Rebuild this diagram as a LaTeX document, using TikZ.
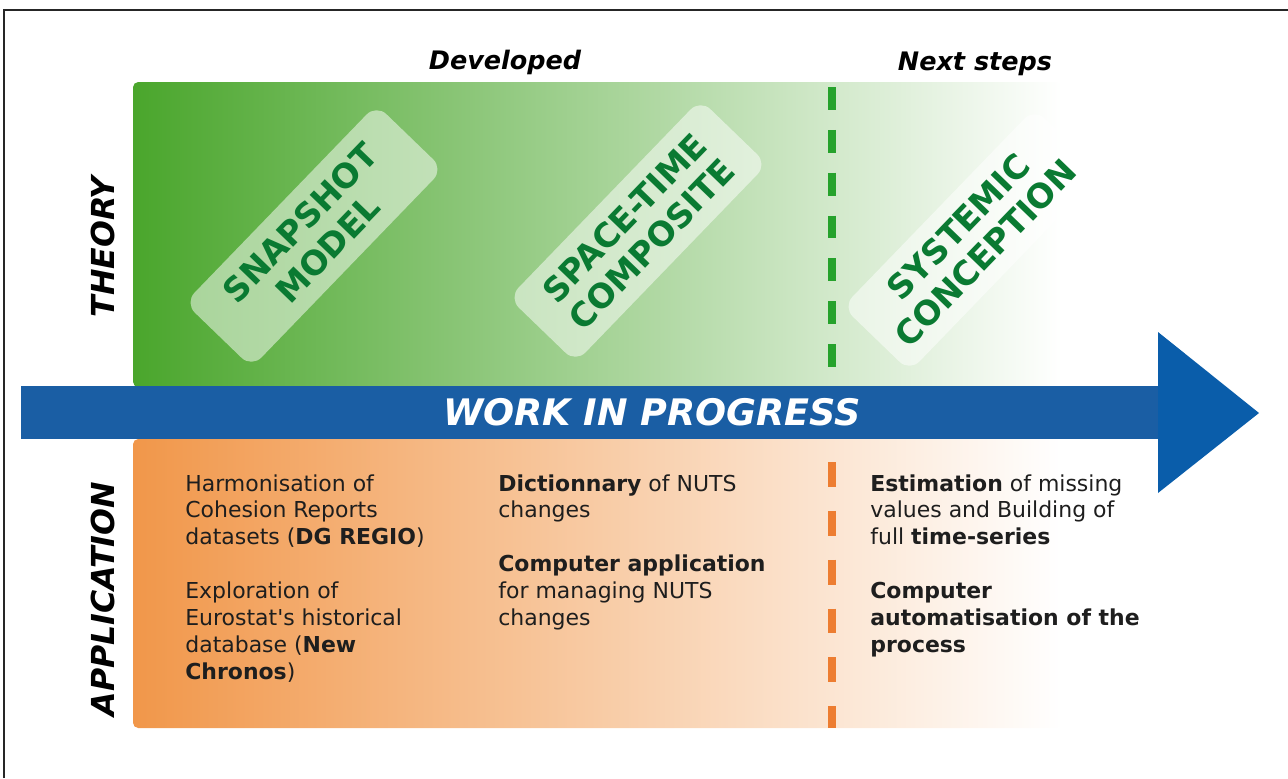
\documentclass[tikz,border=0pt]{standalone}
\usepackage{fontspec}
\setmainfont{DejaVu Sans}[ItalicFont={DejaVu Sans Oblique},BoldFont={DejaVu Sans Bold},BoldItalicFont={DejaVu Sans Bold Oblique}]
\usepackage{xcolor}
\definecolor{wpgreen}{RGB}{74,166,44}
\definecolor{wporange}{RGB}{241,151,74}
\definecolor{wpblue}{RGB}{26,94,164}
\definecolor{wphead}{RGB}{10,93,170}
\definecolor{wpdash}{RGB}{38,162,44}
\definecolor{wpdashor}{RGB}{237,125,49}
\definecolor{wptext}{RGB}{10,122,50}
\definecolor{wpbody}{RGB}{30,30,30}
\usetikzlibrary{positioning}
\tikzset{
  phase/.style={font=\fontsize{14.5}{17}\selectfont\bfseries\itshape, text=black},
  rowlabel/.style={font=\fontsize{18}{20}\selectfont\bfseries\itshape, rotate=90, text=black},
  concept/.style={fill=white, fill opacity=0.5, text opacity=1, rounded corners=8pt,
                  rotate=46, text=wptext, font=\fontsize{19}{21.5}\selectfont\bfseries,
                  align=center, minimum width=157pt, minimum height=53pt, inner sep=2pt},
  appl/.style={anchor=north west, inner sep=0pt, align=left, text=wpbody,
               font=\fontsize{12.5}{15.3}\selectfont},
  milestone/.style={line width=4pt, dash pattern=on 13pt off 11.4pt},
}

\begin{document}
\begin{tikzpicture}[x=0.02cm, y=-0.02cm]
\useasboundingbox (0,0) rectangle (1288,778);

% --- Frame ---
\draw[line width=1.1pt, black!85] (4,778) -- (4,10) -- (1288,10);

% --- Theory and application panels ---
\shade[left color=wpgreen, right color=white, rounded corners=3pt] (133,82) rectangle (1062,387);
\shade[left color=wporange, right color=white, rounded corners=3pt] (133,439) rectangle (1062,728);

% Milestone between developed and next steps
\draw[milestone, wpdash] (832,87) -- (832,368);
\draw[milestone, wpdashor, dash pattern=on 14.2pt off 13.6pt] (832,462) -- (832,728);

% --- Progress arrow ---
\fill[wpblue] (21,386) rectangle (1160,439);
\fill[wphead] (1158,332) -- (1259,413) -- (1158,493) -- cycle;
\node[font=\fontsize{20.8}{22}\selectfont\bfseries\itshape, text=white] (wip) at (652,412) {WORK IN PROGRESS};

% --- Headings ---
\node[phase] (developed) at (505,62) {Developed};
\node[phase] (nextsteps) at (975,64) {Next steps};
\node[rowlabel] (theory) at (103,247) {THEORY};
\node[rowlabel] (application) at (103,599) {APPLICATION};

% --- Theory concepts ---
\node[concept] (snapshot) at (314,236) {SNAPSHOT\\MODEL};
\node[concept] (spacetime) at (638,231) {SPACE-TIME\\COMPOSITE};
\node[concept] (systemic) at (972,240) {SYSTEMIC\\CONCEPTION};

% --- Applications ---
\node[appl] (harmon) at (185,474) {Harmonisation of\\Cohesion Reports\\datasets (\textbf{DG REGIO})\\[15.3pt]
  Exploration of\\Eurostat\textquotesingle s historical\\database (\textbf{New}\\\textbf{Chronos})};
\node[appl] (dict) at (498,474) {\textbf{Dictionnary} of NUTS\\changes\\[15.3pt]
  \textbf{Computer application}\\for managing NUTS\\changes};
\node[appl] (estim) at (870,474) {\textbf{Estimation} of missing\\values and Building of\\full \textbf{time-series}\\[15.3pt]
  \textbf{Computer}\\\textbf{automatisation of the}\\\textbf{process}};

\end{tikzpicture}
\end{document}
